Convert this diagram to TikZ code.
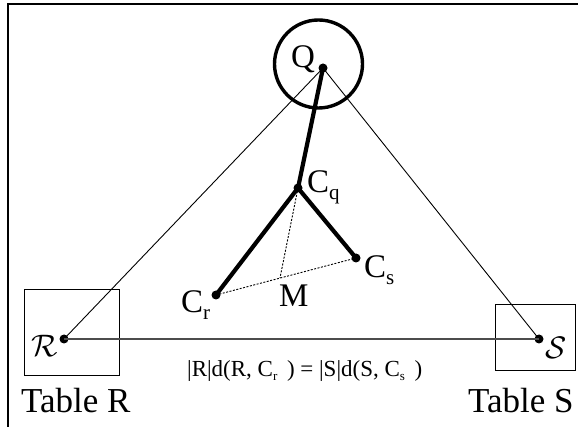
\documentclass[tikz,border=0pt]{standalone}
\usepackage{graphicx}
\usepackage{fontspec}
\setmainfont{Liberation Serif}
\newcommand\lbl[1]{\fontsize{33}{36}\selectfont #1}
\newcommand\sbq[1]{\raisebox{-7pt}{\fontsize{21}{21}\selectfont #1}}
\newcommand\sbf[1]{\raisebox{-4pt}{\fontsize{13}{13}\selectfont #1}}
\begin{document}
\begin{tikzpicture}[x=1pt,y=-1pt,
  pt/.style={circle,fill=black,inner sep=0pt,minimum size=9pt},
  thickline/.style={line width=4.2pt},
  thinline/.style={line width=0.9pt},
  dotline/.style={line width=0.9pt,dash pattern=on 2pt off 1.5pt},
  boxstyle/.style={draw,line width=0.9pt,inner sep=0pt},
  txt/.style={inner sep=0pt,anchor=base west}]
\useasboundingbox (0,0) rectangle (578,427);
\draw[line width=2.2pt] (8,430) -- (8,4) -- (580,4);
% boxes
\node[boxstyle,minimum width=95pt,minimum height=86pt] (boxR) at (71.5,332) {};
\node[boxstyle,minimum width=80pt,minimum height=66pt] (boxS) at (535,337) {};
% circle
\node[draw,circle,line width=3.4pt,minimum size=88pt,inner sep=0pt] (circ) at (318.5,64) {};
% points
\node[pt] (Q) at (323,68) {};
\node[pt] (Cq) at (298,188) {};
\node[pt] (Cs) at (356,258) {};
\node[pt] (Cr) at (216,295) {};
\coordinate (M) at (280,278);
\node[pt] (R) at (64,339) {};
\node[pt] (S) at (539,339) {};
% thin lines
\draw[thinline] (Q.center) -- (R.center);
\draw[thinline] (Q.center) -- (S.center);
\draw[line width=1.4pt,black!70] (R.center) -- (S.center);
% dotted
\draw[dotline] (Cr.center) -- (Cs.center);
\draw[dotline] (Cq.center) -- (M);
% thick
\draw[thickline] (Q.center) -- (Cq.center);
\draw[thickline] (Cq.center) -- (Cr.center);
\draw[thickline] (Cq.center) -- (Cs.center);
% labels
\node[txt] (Qlbl) at (291,68) {\lbl{Q}};
\node[txt] (Cqlbl) at (307,193) {\lbl{C\sbq{q}}};
\node[txt] (Cslbl) at (364,278) {\lbl{C\sbq{s}}};
\node[txt] (Crlbl) at (181,313) {\lbl{C\sbq{r}}};
\node[txt] (Mlbl) at (279,307) {\lbl{M}};
\node[txt] (Rlbl) at (31,356) {\fontsize{24}{24}\selectfont\scalebox{1.25}{$\mathcal{R}$}};
\node[txt] (Slbl) at (545,359) {\fontsize{24}{24}\selectfont\scalebox{1.25}{$\mathcal{S}$}};
\node[txt] (form) at (187,377) {\fontsize{23}{25}\selectfont |R|d(R, C\sbf{r}\, ) = |S|d(S, C\sbf{s}\, )};
\node[txt] (tR) at (21,412) {\fontsize{35}{38}\selectfont Table R};
\node[txt] (tS) at (468,412) {\fontsize{35}{38}\selectfont Table S};
\end{tikzpicture}
\end{document}
